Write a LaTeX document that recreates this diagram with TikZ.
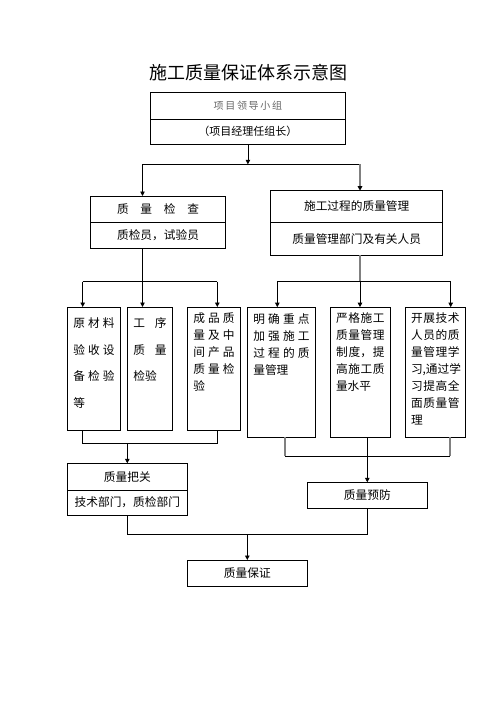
\documentclass[tikz,border=0pt]{standalone}
\usepackage{fontspec}
\setmainfont{Noto Sans CJK SC}
\usetikzlibrary{positioning,arrows.meta}
\XeTeXlinebreaklocale "zh"
\XeTeXlinebreakskip=0pt plus 5pt
\tikzset{
    plain-box/.style = {draw=black, fill=white, line width=0.8pt, rectangle, inner sep=0pt, outer sep=0pt, font=\fontsize{11.7}{14}\selectfont},
    col-box/.style = {draw=black, fill=white, line width=0.8pt, rectangle, inner xsep=6pt, inner ysep=6pt, outer sep=0pt, font=\fontsize{11.7}{17}\selectfont},
    wide-col/.style = {col-box, font=\fontsize{11.7}{26.5}\selectfont},
    link/.style = {draw=black, line width=0.8pt},
    link-gray/.style = {draw=black!50, line width=1.2pt},
    link-arrow/.style = {link, -{Triangle[width=4.5pt,length=4.5pt,color=black]}},
}

\begin{document}
\begin{tikzpicture}[x=1pt,y=-1pt]
\useasboundingbox (0,0) rectangle (496,702);
\node (title) at (248,73) {\fontsize{18}{20}\selectfont 施工质量保证体系示意图};

% leading group
\node [plain-box, minimum width=194.3pt, minimum height=26.7pt, text=black!60, font=\fontsize{10}{12}\selectfont] (lead-head) at (247.9,105.65) {项\,目\,领\,导\,小\,组};
\node [plain-box, minimum width=194.3pt, minimum height=25.3pt, font=\fontsize{11}{13}\selectfont, below=0pt of lead-head] (lead-sub) {（项目经理任组长）};

% two branches
\node [plain-box, minimum width=134.6pt, minimum height=26pt] (check-top) at (158,209) {质\quad 量\quad 检\quad 查};
\node [plain-box, minimum width=134.6pt, minimum height=26.3pt, below=0pt of check-top] (check-sub) {质检员，试验员};
\node [plain-box, minimum width=172pt, minimum height=31.3pt] (process-top) at (356.7,206.35) {施工过程的质量管理};
\node [plain-box, minimum width=172pt, minimum height=33.3pt, below=0pt of process-top] (process-sub) {质量管理部门及有关人员};

% detail columns
\node [wide-col] (raw-check) at (94,368.85) {\begin{minipage}[c][111.7pt][t]{41.4pt}
    \vspace*{5pt}原材料\linebreak 验收设\linebreak 备检验\linebreak 等
\end{minipage}};
\node [wide-col] (proc-check) at (150,368.85) {\begin{minipage}[c][111.7pt][t]{33.4pt}
    \vspace*{5pt}工\hfill 序\\质\hfill 量\\检验
\end{minipage}};
\node [col-box] (product-check) at (214,368.85) {\begin{minipage}[c][111.7pt][t]{41.4pt}
    成品质\linebreak 量及中\linebreak 间产品\linebreak 质量检\linebreak 验
\end{minipage}};
\node [col-box] (focus-box) at (281.5,372.3) {\begin{minipage}[c][118.3pt][t]{56.4pt}
    明确重点\linebreak 加强施工\linebreak 过程的质\linebreak 量管理
\end{minipage}};
\node [col-box] (rule-box) at (360.35,372.3) {\begin{minipage}[c][118.3pt][t]{48.7pt}
    严格施工\linebreak 质量管理\linebreak 制度，提\linebreak 高施工质\linebreak 量水平
\end{minipage}};
\node [col-box] (train-box) at (435.35,372.3) {\begin{minipage}[c][118.3pt][t]{48.7pt}
    开展技术\linebreak 人员的质\linebreak 量管理学\linebreak \mbox{习,通过学}\linebreak 习提高全\linebreak 面质量管\linebreak 理
\end{minipage}};

% results
\node [plain-box, minimum width=120pt, minimum height=26.7pt] (gate-top) at (127.3,476.65) {质量把关};
\node [plain-box, minimum width=120pt, minimum height=25.3pt, below=0pt of gate-top] (gate-sub) {技术部门，质检部门};
\node [plain-box, minimum width=120pt, minimum height=26.4pt] (prevent-box) at (367.3,495.5) {质量预防};
\node [plain-box, minimum width=120pt, minimum height=26pt] (assure-box) at (247.3,573) {质量保证};

% top split
\coordinate (split-top) at (247.9,164.3);
\coordinate (split-left) at (142.5,164.3);
\coordinate (split-right) at (360,164.3);
\draw[link-arrow] (lead-sub.south) -- (split-top);
\draw[link] (split-left) -- (split-right);
\draw[link-arrow] (split-left) -- (split-left |- check-top.north);
\draw[link-gray, -{Triangle[width=4.5pt,length=4.5pt,color=black]}] (split-right) -- (split-right |- process-top.north);

% left fork
\coordinate (left-mid) at (142.5,281.7);
\coordinate (fork-a) at (82.7,281.7);
\coordinate (fork-c) at (217.3,281.7);
\draw[link] (check-sub.south -| left-mid) -- (left-mid);
\draw[link] (fork-a) -- (fork-c);
\draw[link-arrow] (fork-a) -- (fork-a |- raw-check.north);
\draw[link-arrow] (left-mid) -- (left-mid |- proc-check.north);
\draw[link-arrow] (fork-c) -- (fork-c |- product-check.north);

% right fork
\coordinate (right-mid) at (360,281.7);
\coordinate (fork-d) at (277.3,281.7);
\coordinate (fork-f) at (450.7,281.7);
\draw[link-gray] (process-sub.south -| right-mid) -- (right-mid);
\draw[link] (fork-d) -- (fork-f);
\draw[link-arrow] (fork-d) -- (fork-d |- focus-box.north);
\draw[link-arrow] (right-mid) -- (right-mid |- rule-box.north);
\draw[link-arrow] (fork-f) -- (fork-f |- train-box.north);

% left join
\coordinate (join-a) at (82.7,443);
\coordinate (join-c) at (217.3,443);
\draw[link] (raw-check.south -| join-a) -- (join-a) -- (join-c) -- (product-check.south -| join-c);
\draw[link-arrow] (gate-top.north |- join-a) -- (gate-top.north);

% right join
\coordinate (join-d) at (285,456);
\coordinate (join-f) at (450,456);
\draw[link-gray] (focus-box.south -| join-d) -- (join-d);
\draw[link-gray] (train-box.south -| join-f) -- (join-f);
\draw[link] (join-d) -- (join-f);
\draw[link-arrow] (rule-box.south -| prevent-box.north) -- (prevent-box.north);

% bottom join
\coordinate (join-bottom) at (247.3,534.3);
\draw[link] (gate-sub.south) -- (gate-sub.south |- join-bottom) -- (prevent-box.south |- join-bottom) -- (prevent-box.south);
\draw[link-arrow] (join-bottom) -- (assure-box.north);
\end{tikzpicture}
\end{document}
